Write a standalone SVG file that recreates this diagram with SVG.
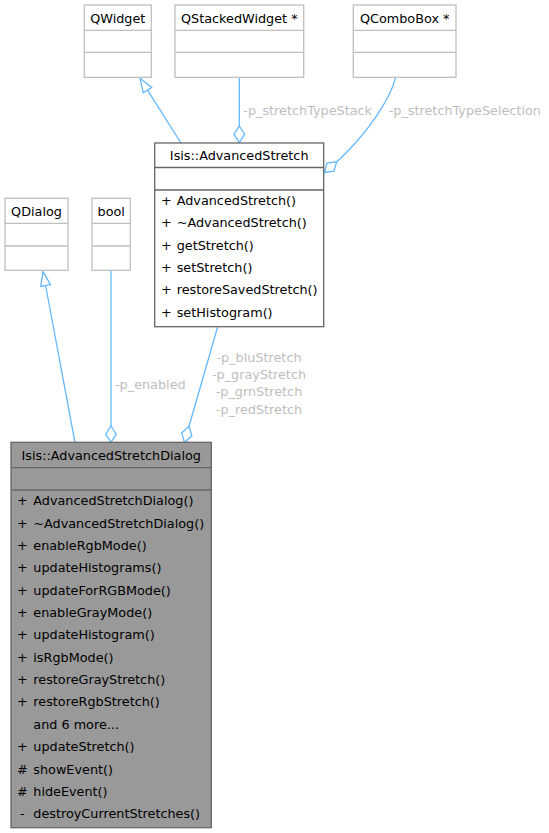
<svg xmlns="http://www.w3.org/2000/svg" width="549" height="833" viewBox="0 0 549 833">
<style>
text{font-family:"DejaVu Sans","Liberation Sans",sans-serif;font-size:12.8px;fill:#000}
.c{text-anchor:middle}
.lbl{fill:#bebebe}
.box{fill:#fff;stroke:#bfbfbf;stroke-width:1.3}
.main{fill:#999;stroke:#666;stroke-width:1.3}
.cls{fill:#fff;stroke:#666;stroke-width:1.3}
.sepL{stroke:#bfbfbf;stroke-width:1.3}
.sepD{stroke:#666;stroke-width:1.3}
.e{fill:none;stroke:#63b8ff;stroke-width:1.3}
.h{fill:#fff;stroke:#63b8ff;stroke-width:1.3}
</style>
<g id="connectors">
<path class="e" d="M181,143 L147.5,90.1"/>
<polygon class="h" points="140,78.3 151.7,87.4 143.3,92.8"/>
<path class="e" d="M239.3,77.3 L239.3,126"/>
<polygon class="h" points="239.3,126 244.6,134.2 239.3,142.5 234,134.2"/>
<path class="e" d="M395.7,77.3 C390,100 366,135 336.6,161.9"/>
<polygon class="h" points="336.6,161.9 334,171.2 324.5,172.5 327,163.2"/>
<path class="e" d="M75,442.3 L45.6,285.5"/>
<polygon class="h" points="43,271.7 50.5,284.6 40.7,286.4"/>
<path class="e" d="M111,270.3 L111,426"/>
<polygon class="h" points="111,426 116.3,434.2 111,442.3 105.7,434.2"/>
<path class="e" d="M217.7,326.7 L189,426.3"/>
<polygon class="h" points="189,426.3 191.9,435.8 184.5,442.5 181.7,433"/>
<text class="lbl" x="243.3" y="114.5">-p_stretchTypeStack</text>
<text class="lbl" x="388.7" y="114.5">-p_stretchTypeSelection</text>
<text class="lbl" x="115" y="388.5">-p_enabled</text>
<text class="lbl c" x="259" y="362">-p_bluStretch</text>
<text class="lbl c" x="259" y="379.2">-p_grayStretch</text>
<text class="lbl c" x="259" y="396.4">-p_grnStretch</text>
<text class="lbl c" x="259" y="413.6">-p_redStretch</text>
</g>
<g id="QWidget">
<rect class="box" x="84.3" y="5" width="67" height="72.3"/>
<line class="sepL" x1="84.3" y1="30.3" x2="151.3" y2="30.3"/>
<line class="sepL" x1="84.3" y1="52.3" x2="151.3" y2="52.3"/>
<text class="c" x="117.8" y="22.8">QWidget</text>
</g>
<g id="QStackedWidget">
<rect class="box" x="175" y="5" width="128.7" height="72.3"/>
<line class="sepL" x1="175" y1="30.3" x2="303.7" y2="30.3"/>
<line class="sepL" x1="175" y1="52.3" x2="303.7" y2="52.3"/>
<text class="c" x="239.3" y="22.8">QStackedWidget *</text>
</g>
<g id="QComboBox">
<rect class="box" x="353.3" y="5" width="102.7" height="72.3"/>
<line class="sepL" x1="353.3" y1="30.3" x2="456" y2="30.3"/>
<line class="sepL" x1="353.3" y1="52.3" x2="456" y2="52.3"/>
<text class="c" x="404.7" y="22.8">QComboBox *</text>
</g>
<g id="QDialog">
<rect class="box" x="5" y="198.3" width="63" height="72"/>
<line class="sepL" x1="5" y1="223.3" x2="68" y2="223.3"/>
<line class="sepL" x1="5" y1="246" x2="68" y2="246"/>
<text class="c" x="36.5" y="216">QDialog</text>
</g>
<g id="bool">
<rect class="box" x="92" y="198.3" width="38.3" height="72"/>
<line class="sepL" x1="92" y1="223.3" x2="130.3" y2="223.3"/>
<line class="sepL" x1="92" y1="246" x2="130.3" y2="246"/>
<text class="c" x="111.2" y="216">bool</text>
</g>
<g id="AdvancedStretch">
<rect class="cls" x="154.7" y="143" width="169" height="183.7"/>
<line class="sepD" x1="154.7" y1="167.5" x2="323.7" y2="167.5"/>
<line class="sepD" x1="154.7" y1="190" x2="323.7" y2="190"/>
<text class="c" x="239.2" y="160.3">Isis::AdvancedStretch</text>
<text x="161" y="205">+</text><text x="176.7" y="205">AdvancedStretch()</text>
<text x="161" y="227.3">+</text><text x="176.7" y="227.3">~AdvancedStretch()</text>
<text x="161" y="249.6">+</text><text x="176.7" y="249.6">getStretch()</text>
<text x="161" y="271.9">+</text><text x="176.7" y="271.9">setStretch()</text>
<text x="161" y="294.2">+</text><text x="176.7" y="294.2">restoreSavedStretch()</text>
<text x="161" y="316.5">+</text><text x="176.7" y="316.5">setHistogram()</text>
</g>
<g id="AdvancedStretchDialog">
<rect class="main" x="11" y="442.3" width="200.3" height="385.4"/>
<line class="sepD" x1="11" y1="467.7" x2="211.3" y2="467.7"/>
<line class="sepD" x1="11" y1="490" x2="211.3" y2="490"/>
<text class="c" x="111.2" y="460.3">Isis::AdvancedStretchDialog</text>
<text x="17" y="505.3">+</text><text x="33.3" y="505.3">AdvancedStretchDialog()</text>
<text x="17" y="527.65">+</text><text x="33.3" y="527.65">~AdvancedStretchDialog()</text>
<text x="17" y="550">+</text><text x="33.3" y="550">enableRgbMode()</text>
<text x="17" y="572.35">+</text><text x="33.3" y="572.35">updateHistograms()</text>
<text x="17" y="594.7">+</text><text x="33.3" y="594.7">updateForRGBMode()</text>
<text x="17" y="617.05">+</text><text x="33.3" y="617.05">enableGrayMode()</text>
<text x="17" y="639.4">+</text><text x="33.3" y="639.4">updateHistogram()</text>
<text x="17" y="661.75">+</text><text x="33.3" y="661.75">isRgbMode()</text>
<text x="17" y="684.1">+</text><text x="33.3" y="684.1">restoreGrayStretch()</text>
<text x="17" y="706.45">+</text><text x="33.3" y="706.45">restoreRgbStretch()</text>
<text x="33.3" y="728.8">and 6 more...</text>
<text x="17" y="751.15">+</text><text x="33.3" y="751.15">updateStretch()</text>
<text x="17" y="773.5">#</text><text x="33.3" y="773.5">showEvent()</text>
<text x="17" y="795.85">#</text><text x="33.3" y="795.85">hideEvent()</text>
<text x="20" y="818.2">-</text><text x="33.3" y="818.2">destroyCurrentStretches()</text>
</g>
</svg>
